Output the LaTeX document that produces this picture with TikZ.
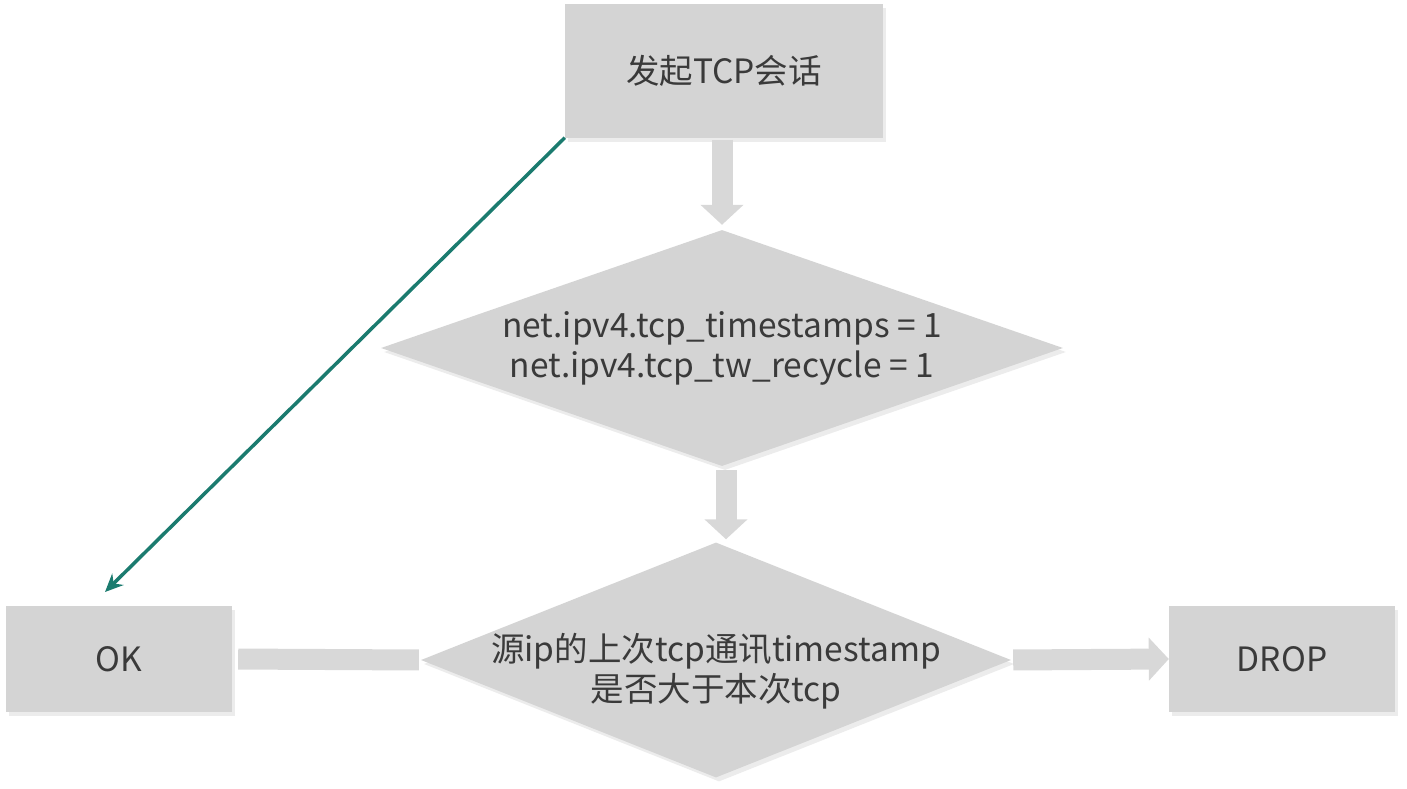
\documentclass[tikz,border=0pt]{standalone}
\usepackage{fontspec}
\setmainfont{Noto Sans CJK SC}
\usetikzlibrary{shapes.geometric,arrows.meta,shadows}

\definecolor{boxgray}{HTML}{D4D4D4}
\definecolor{bargray}{HTML}{D8D8D8}
\definecolor{textgray}{HTML}{3A3A3A}
\definecolor{tealline}{HTML}{1B7B6F}

\tikzset{
    flowbox/.style={shape=rectangle, fill=boxgray, draw=none, text=textgray,
        align=center, font=\fontsize{33.5}{40}\selectfont,
        drop shadow={opacity=0.15, shadow xshift=3pt, shadow yshift=-4pt}},
    flowdiam/.style={flowbox, shape=diamond, aspect=2.9, inner xsep=-60pt, inner ysep=0pt},
    bigarrow/.style={color=bargray, line width=21pt, -{Triangle[width=42pt,length=20pt]}},
    bigbar/.style={color=bargray, line width=21pt, -}
}

\begin{document}
\begin{tikzpicture}[x=1pt, y=-1pt]

    \useasboundingbox (0,0) rectangle (1407,789);

    \node[flowbox, minimum width=318pt, minimum height=133pt] (Start) at (724,71) {发起TCP会话};

    \node[flowdiam, minimum width=682pt, minimum height=236pt] (TsCheck) at (722,348) {
        net.ipv4.tcp\_timestamps = 1 \\
        net.ipv4.tcp\_tw\_recycle = 1
    };

    \node[flowdiam, aspect=2.5, minimum width=590pt, minimum height=235pt] (StampCmp) at (716,660) {
        \rule{0pt}{50pt}源ip的上次tcp通讯timestamp \\
        是否大于本次tcp
    };

    \node[flowbox, minimum width=226pt, minimum height=106pt] (OK) at (119,659) {OK};

    \node[flowbox, minimum width=226pt, minimum height=106pt] (Drop) at (1282,659) {DROP};

    \coordinate (OKin) at (105,592);


    \draw [bigarrow, shorten <=2pt, shorten >=5pt] (Start.south -| TsCheck.north) -- (TsCheck.north);
    \draw [bigarrow, shorten <=4pt, shorten >=3pt] ([xshift=4pt]TsCheck.south) -- ([xshift=4pt]TsCheck.south |- StampCmp.north);
    \draw [bigbar, shorten <=2pt, shorten >=6pt] (StampCmp.west) -- (OK.east);
    \draw [bigarrow, shorten <=2pt] (StampCmp.east) -- (Drop.west);
    \draw [tealline, line width=3.5pt, -{Stealth[length=18pt,width=16pt]}] (Start.south west) -- (OKin);

\end{tikzpicture}
\end{document}
